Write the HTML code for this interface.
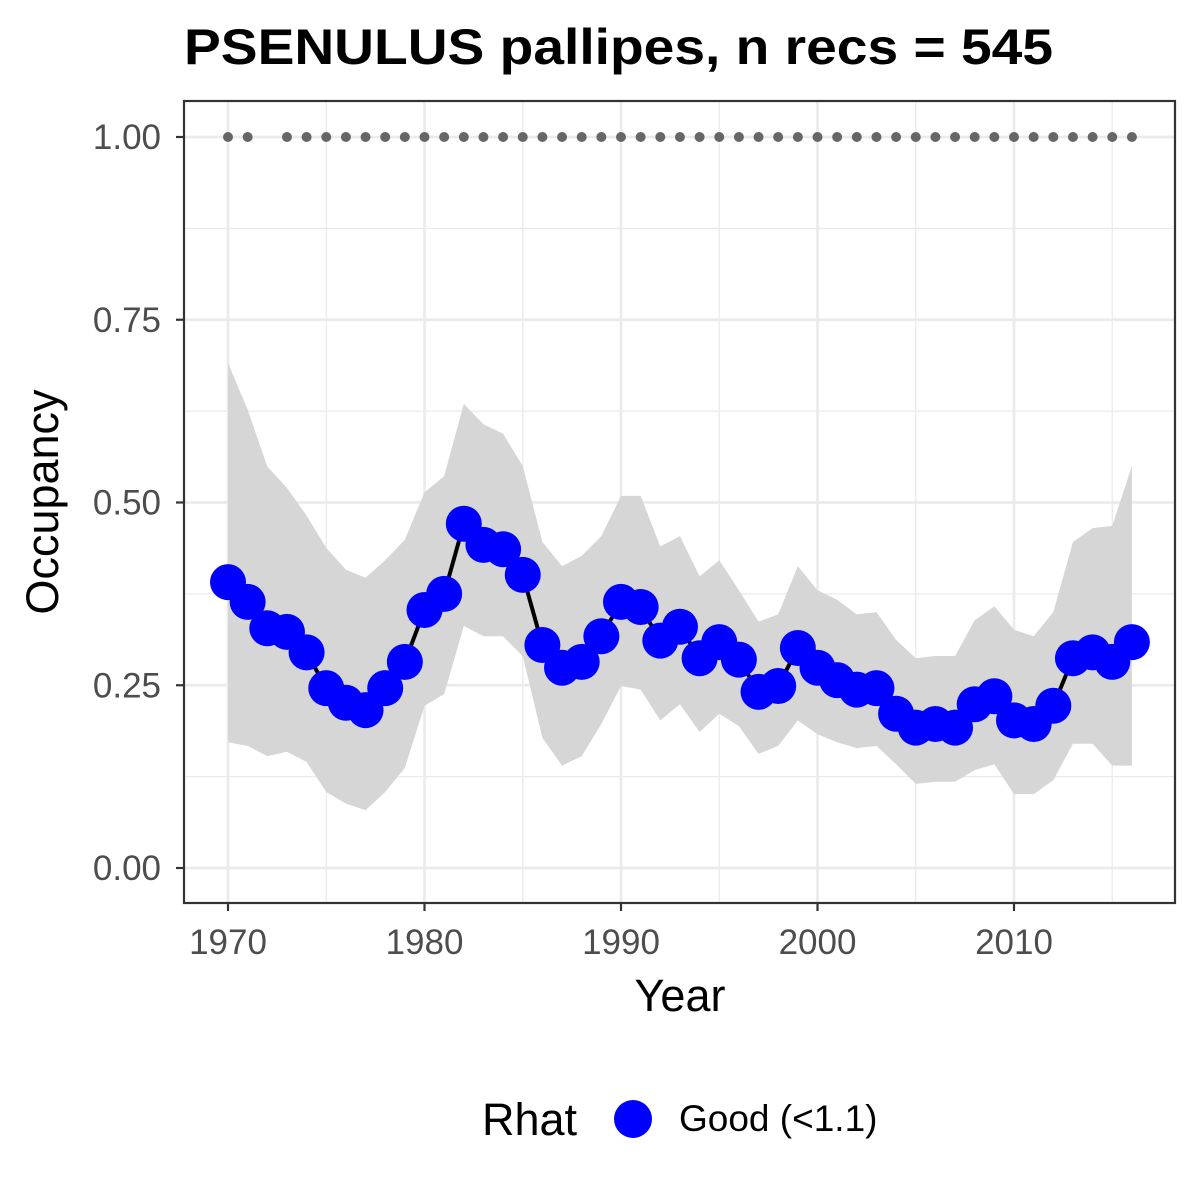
<!DOCTYPE html>
<html><head><meta charset="utf-8"><style>
body{margin:0;background:#fff;}
svg{display:block;font-family:"Liberation Sans",Arial,sans-serif;}
</style></head><body>
<svg id="chart" width="1200" height="1200" viewBox="0 0 1200 1200">
<text x="184" y="64" font-size="50" font-weight="bold" fill="#000" textLength="869" lengthAdjust="spacingAndGlyphs">PSENULUS pallipes, n recs = 545</text>
<g id="grid"></g>
<g id="band"></g>
<g id="line"></g>
<g id="pts"></g>
<g id="dots"></g>
<rect x="184" y="101" width="991" height="802" fill="none" stroke="#333" stroke-width="2.2"/>
<g id="axes"></g>
<text x="680" y="1011" font-size="45" text-anchor="middle" fill="#000">Year</text>
<text transform="translate(58,502) rotate(-90)" font-size="45" text-anchor="middle" fill="#000">Occupancy</text>
<g>
<text x="482" y="1135" font-size="45" fill="#000">Rhat</text>
<circle cx="633" cy="1119" r="19" fill="#0000ff"/>
<text x="679" y="1131" font-size="37" fill="#000">Good (&lt;1.1)</text>
</g>
</svg>
<script>
const years=[1970,1971,1972,1973,1974,1975,1976,1977,1978,1979,1980,1981,1982,1983,1984,1985,1986,1987,1988,1989,1990,1991,1992,1993,1994,1995,1996,1997,1998,1999,2000,2001,2002,2003,2004,2005,2006,2007,2008,2009,2010,2011,2012,2013,2014,2015,2016];
const occMean=[0.391,0.364,0.328,0.323,0.295,0.246,0.226,0.216,0.246,0.282,0.353,0.375,0.471,0.442,0.436,0.401,0.305,0.274,0.282,0.317,0.364,0.357,0.311,0.330,0.287,0.309,0.285,0.241,0.249,0.301,0.274,0.257,0.244,0.246,0.211,0.192,0.197,0.192,0.224,0.235,0.202,0.197,0.222,0.287,0.295,0.282,0.309];
const occUpper=[0.691,0.627,0.549,0.520,0.482,0.438,0.408,0.397,0.421,0.449,0.514,0.536,0.635,0.607,0.594,0.550,0.446,0.413,0.427,0.454,0.509,0.509,0.440,0.454,0.399,0.421,0.380,0.337,0.347,0.413,0.380,0.367,0.347,0.350,0.312,0.287,0.290,0.290,0.339,0.358,0.326,0.317,0.350,0.446,0.465,0.468,0.550];
const occLower=[0.172,0.167,0.153,0.159,0.145,0.104,0.088,0.079,0.104,0.137,0.222,0.238,0.331,0.317,0.317,0.290,0.178,0.140,0.153,0.197,0.249,0.244,0.202,0.224,0.186,0.211,0.194,0.156,0.167,0.202,0.183,0.172,0.164,0.167,0.142,0.115,0.118,0.118,0.134,0.142,0.101,0.101,0.120,0.170,0.170,0.140,0.140];
const recordYears=[1970,1971,1973,1974,1975,1976,1977,1978,1979,1980,1981,1982,1983,1984,1985,1986,1987,1988,1989,1990,1991,1992,1993,1994,1995,1996,1997,1998,1999,2000,2001,2002,2003,2004,2005,2006,2007,2008,2009,2010,2011,2012,2013,2014,2015,2016];
const recordValue=1.0;
const xTicks=[1970,1980,1990,2000,2010];
const xMinor=[1975,1985,1995,2005,2015];
const yTicks=[0,0.25,0.5,0.75,1.0];
const yTickLabels=["0.00","0.25","0.50","0.75","1.00"];
const yMinor=[0.125,0.375,0.625,0.875];

const X=v=>228+(v-1970)*(1014-228)/40;
const Y=v=>868-v*731;
const NS="http://www.w3.org/2000/svg";
function mk(tag,attrs,parent){const e=document.createElementNS(NS,tag);for(const k in attrs)e.setAttribute(k,attrs[k]);parent.appendChild(e);return e;}
const grid=document.getElementById('grid'),axes=document.getElementById('axes');
yMinor.forEach(v=>{const l=mk('line',{x1:184,x2:1175,y1:Y(v),y2:Y(v),stroke:'#ebebeb','stroke-width':1.3},grid);

});
xMinor.forEach(v=>{const l=mk('line',{x1:X(v),x2:X(v),y1:101,y2:903,stroke:'#ebebeb','stroke-width':1.3},grid);

});
yTicks.forEach((v,i)=>{const l=mk('line',{x1:184,x2:1175,y1:Y(v),y2:Y(v),stroke:'#ebebeb','stroke-width':2.7},grid);


const t=mk('line',{x1:176,x2:184,y1:Y(v),y2:Y(v),stroke:'#333','stroke-width':2.2},axes);


const tx=mk('text',{x:161,y:Y(v)+12,'font-size':35,'text-anchor':'end',fill:'#4d4d4d'},axes);tx.textContent=yTickLabels[i];

});
xTicks.forEach(v=>{const l=mk('line',{x1:X(v),x2:X(v),y1:101,y2:903,stroke:'#ebebeb','stroke-width':2.7},grid);


const t=mk('line',{x1:X(v),x2:X(v),y1:903,y2:911,stroke:'#333','stroke-width':2.2},axes);


const tx=mk('text',{x:X(v),y:954,'font-size':35,'text-anchor':'middle',fill:'#4d4d4d'},axes);tx.textContent=v;

});
let d='';years.forEach((y,i)=>{d+=(i?'L':'M')+X(y)+','+Y(occUpper[i]);});
for(let i=years.length-1;i>=0;i--)d+='L'+X(years[i])+','+Y(occLower[i]);
const band=mk('path',{d:d+'Z',fill:'#d6d6d6'},document.getElementById('band'));


const ln=mk('polyline',{points:years.map((y,i)=>X(y)+','+Y(occMean[i])).join(' '),fill:'none',stroke:'#000','stroke-width':4},document.getElementById('line'));


years.forEach((y,i)=>{const c=mk('circle',{cx:X(y),cy:Y(occMean[i]),r:18,fill:'#0000ff'},document.getElementById('pts'));

});
recordYears.forEach(y=>{const c=mk('circle',{cx:X(y),cy:Y(recordValue),r:5,fill:'#666'},document.getElementById('dots'));

});
</script>
</body></html>
